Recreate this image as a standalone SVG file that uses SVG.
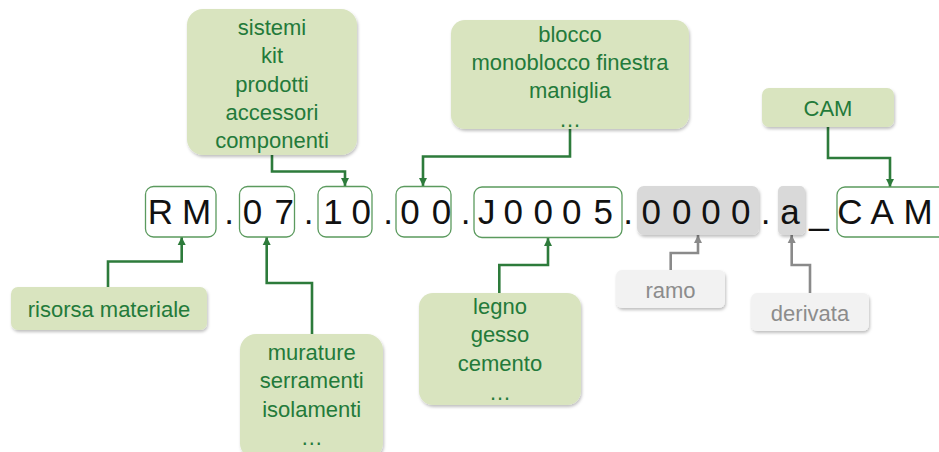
<svg xmlns="http://www.w3.org/2000/svg" width="939" height="452" viewBox="0 0 939 452">
<style>
.code{font-family:"Liberation Sans",Arial,sans-serif;font-size:35px;fill:#111;text-anchor:middle}
.cbox{fill:#fff;stroke:#5b9a5e;stroke-width:1.3}
.gbox{fill:#d9d9d9;filter:url(#sh)}
.call{fill:#d9e4bf;filter:url(#sh)}
.lcall{fill:#f2f2f2;filter:url(#sh)}
.lbl{font-family:"Liberation Sans",Arial,sans-serif;font-size:22px;fill:#237a3a;text-anchor:middle}
.glbl{font-family:"Liberation Sans",Arial,sans-serif;font-size:22px;fill:#8c8c8c;text-anchor:middle}
.con{fill:none;stroke:#2d7b3b;stroke-width:2.6;marker-end:url(#ag)}
.gcon{fill:none;stroke:#8a8a8a;stroke-width:2.6;marker-end:url(#agr)}
</style>
<defs>
<filter id="sh" x="-10%" y="-10%" width="125%" height="130%"><feDropShadow dx="1" dy="2" stdDeviation="1.5" flood-color="#000" flood-opacity="0.25"/></filter>
<marker id="ag" markerUnits="userSpaceOnUse" markerWidth="10" markerHeight="10" viewBox="0 0 10 10" refX="9" refY="5" orient="auto"><path d="M1,1 L9,5 L1,9 Z" fill="#2d7b3b"/></marker>
<marker id="agr" markerUnits="userSpaceOnUse" markerWidth="10" markerHeight="10" viewBox="0 0 10 10" refX="9" refY="5" orient="auto"><path d="M1,1 L9,5 L1,9 Z" fill="#8a8a8a"/></marker>
</defs>

<g id="connectors">
<path class="con" d="M272 155 V171.5 H345 V186"/>
<path class="con" d="M570 129 V156.5 H423 V186"/>
<path class="con" d="M828 127 V158 H890 V187"/>
<path class="con" d="M108 287 V261.5 H181.7 V237"/>
<path class="con" d="M312 334 V283 H266.7 V237"/>
<path class="con" d="M499.3 293 V265 H548 V238"/>
<path class="gcon" d="M670.7 270 V253 H698 V235"/>
<path class="gcon" d="M810 293 V265 H791.7 V235"/>
</g>

<g id="code">
<g id="seg-rm"><rect class="cbox" x="145.5" y="186.5" width="70.5" height="50.5" rx="8"/><text class="code" x="160.3 196.7" y="224">RM</text></g>
<text class="code" x="229" y="224">.</text>
<g id="seg-07"><rect class="cbox" x="239.5" y="186.5" width="55" height="50.5" rx="8"/><text class="code" x="252.5 284.3" y="224">07</text></g>
<text class="code" x="308.7" y="224">.</text>
<g id="seg-10"><rect class="cbox" x="318" y="186.5" width="54" height="50.5" rx="8"/><text class="code" x="333 361.3" y="224">10</text></g>
<text class="code" x="388" y="224">.</text>
<g id="seg-00"><rect class="cbox" x="396" y="186.5" width="55" height="50.5" rx="8"/><text class="code" x="410 441.5" y="224">00</text></g>
<text class="code" x="465.5" y="224">.</text>
<g id="seg-j0005"><rect class="cbox" x="474" y="187" width="148" height="50.5" rx="8"/><text class="code" x="486.7 513.3 543.3 571.7 603.3" y="224">J0005</text></g>
<text class="code" x="628" y="224">.</text>
<g id="seg-0000"><rect class="gbox" x="637" y="186" width="122" height="49" rx="7"/><text class="code" x="651.3 681.7 711 740.8" y="224">0000</text></g>
<text class="code" x="765.5" y="224">.</text>
<g id="seg-a"><rect class="gbox" x="778" y="186" width="27" height="49" rx="5"/><text class="code" x="790" y="224">a</text></g>
<text class="code" x="819" y="224">_</text>
<g id="seg-cam"><rect class="cbox" x="837" y="187" width="115" height="50" rx="8"/><text class="code" x="850 882.3 918" y="224">CAM</text></g>
</g>

<g id="n-sistemi"><rect class="call" x="187" y="9" width="170" height="146" rx="16"/>
<text class="lbl" x="272" y="35">sistemi</text><text class="lbl" x="272" y="63.3">kit</text><text class="lbl" x="272" y="91.7">prodotti</text><text class="lbl" x="272" y="120">accessori</text><text class="lbl" x="272" y="148">componenti</text></g>

<g id="n-blocco"><rect class="call" x="451" y="20" width="238" height="109" rx="14"/>
<text class="lbl" x="570" y="41.7">blocco</text><text class="lbl" x="570" y="70">monoblocco finestra</text><text class="lbl" x="570" y="98.3">maniglia</text><text class="lbl" x="570" y="126.7">…</text></g>

<g id="n-cam"><rect class="call" x="762" y="88" width="132" height="39" rx="7"/>
<text class="lbl" x="828" y="116">CAM</text></g>

<g id="n-risorsa"><rect class="call" x="11" y="287" width="196" height="43" rx="7"/>
<text class="lbl" x="109" y="316.7">risorsa materiale</text></g>

<g id="n-murature"><rect class="call" x="240" y="334" width="143" height="125" rx="16"/>
<text class="lbl" x="311.7" y="360">murature</text><text class="lbl" x="311.7" y="388.3">serramenti</text><text class="lbl" x="311.7" y="416.7">isolamenti</text><text class="lbl" x="311.7" y="445">…</text></g>

<g id="n-legno"><rect class="call" x="419" y="293" width="162" height="112" rx="14"/>
<text class="lbl" x="500" y="314">legno</text><text class="lbl" x="500" y="342.3">gesso</text><text class="lbl" x="500" y="371">cemento</text><text class="lbl" x="500" y="400">…</text></g>

<g id="n-ramo"><rect class="lcall" x="616" y="270" width="109" height="38" rx="6"/>
<text class="glbl" x="670.5" y="298">ramo</text></g>

<g id="n-derivata"><rect class="lcall" x="751" y="293" width="118" height="38" rx="6"/>
<text class="glbl" x="810" y="320.5">derivata</text></g>
</svg>
